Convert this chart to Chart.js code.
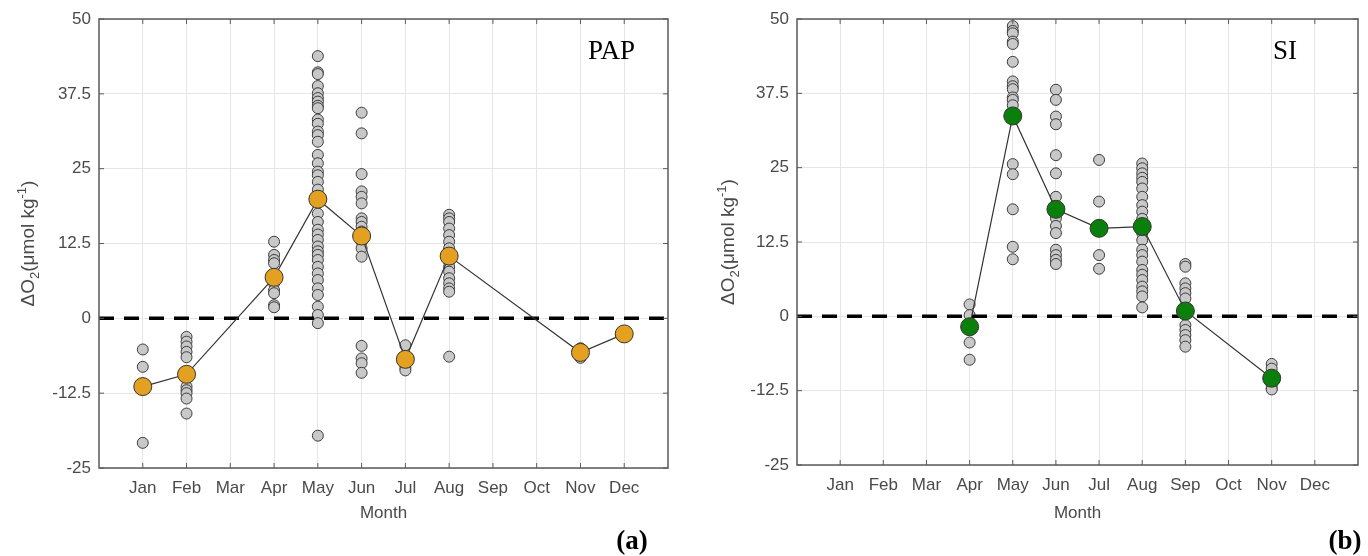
<!DOCTYPE html>
<html lang="en">
<head>
<meta charset="UTF-8">
<title>ΔO2 by month – PAP and SI</title>
<script src="https://cdn.jsdelivr.net/npm/chart.js"></script>
<style>
  body { margin: 0; background: #fff; }
  .wrap { display: flex; width: 1368px; height: 556px; }
  canvas { display: block; }
</style>
</head>
<body>
<div class="wrap">
  <canvas id="papChart" width="684" height="556"></canvas>
  <canvas id="siChart" width="684" height="556"></canvas>
</div>
<script>
const months = ['Jan', 'Feb', 'Mar', 'Apr', 'May', 'Jun', 'Jul', 'Aug', 'Sep', 'Oct', 'Nov', 'Dec'];
const yTicks = [-25, -12.5, 0, 12.5, 25, 37.5, 50];

// single ΔO2 values per month, index 0 = Jan
const papObs = [
  [-5.2, -8.1, -20.8],
  [-3.1, -3.9, -4.7, -5.6, -6.5, -11.4, -12.0, -12.5, -13.4, -15.9],
  [],
  [12.8, 10.6, 9.75, 9.2, 5.85, 4.7, 4.2, 2.2, 1.85],
  [43.8, 41.1, 40.8, 38.8, 37.6, 36.8, 36.2, 35.5, 35.1, 33.2, 32.5, 31.2, 30.6, 29.5, 27.3, 25.9, 24.5,
   23.9, 22.8, 21.5, 17.5, 16.1, 14.8, 14.0, 13.1, 12.0, 11.2, 10.6, 9.75, 8.6, 7.5, 6.4, 5.0, 3.9, 1.95,
   0.56, -0.8, -19.6],
  [34.35, 30.9, 24.1, 21.2, 20.3, 19.2, 16.7, 16.1, 15.3, 14.5, 12.8, 11.7, 10.3, -4.6, -6.7, -7.5, -9.1],
  [-4.5, -6.8, -8.3, -8.7],
  [17.3, 16.7, 16.1, 15.0, 13.9, 12.8, 11.7, 10.5, 9.5, 8.6, 7.8, 6.7, 5.85, 5.0, 4.45, -6.4],
  [],
  [],
  [-5.0, -5.5, -6.2, -6.6],
  [-2.6]
];
const papMeans = [-11.4, -9.35, null, 6.85, 19.9, 13.75, -6.85, 10.4, null, null, -5.7, -2.6];

const siObs = [
  [], [], [],
  [2.0, 0.2, -1.5, -4.4, -7.3],
  [48.8, 48.0, 47.6, 46.2, 45.8, 42.8, 39.5, 38.7, 38.2, 36.8, 36.4, 35.5, 25.6, 23.9, 18.0, 11.7, 9.6],
  [38.1, 36.4, 33.6, 32.3, 27.1, 24.05, 20.1, 16.5, 15.2, 14.0, 11.2, 10.3, 9.5, 8.8],
  [26.3, 19.3, 10.3, 8.0],
  [25.7, 24.9, 24.05, 23.3, 22.6, 21.5, 20.1, 18.7, 17.6, 16.4, 14.0, 12.8, 11.2, 10.3, 9.2, 7.8, 7.0,
   6.1, 5.0, 4.2, 3.35, 1.5],
  [8.8, 8.35, 5.55, 4.7, 3.9, 3.0, 1.0, -1.5, -2.3, -3.15, -4.0, -5.1],
  [],
  [-8.0, -8.8, -11.5, -12.1, -12.3],
  []
];
const siMeans = [null, null, null, -1.75, 33.7, 18.0, 14.8, 15.1, 0.9, null, -10.4, null];

const sans = '"Liberation Sans", Arial, sans-serif';
const serif = '"Liberation Serif", "Times New Roman", serif';
const textGrey = '#4a4a4a';

// zero line, axes box, inward ticks and the hand-set labels
const panelDecor = {
  id: 'panelDecor',
  afterDatasetDraw(chart, args) {
    if (args.index !== 1) return;
    const { ctx, chartArea: a, scales: { y } } = chart;
    const y0 = y.getPixelForValue(0);
    ctx.save();
    ctx.strokeStyle = '#000';
    ctx.lineWidth = 3.5;
    ctx.setLineDash([15, 10]);
    ctx.beginPath();
    ctx.moveTo(a.left, y0);
    ctx.lineTo(a.right, y0);
    ctx.stroke();
    ctx.restore();
  },
  afterDraw(chart, args, opts) {
    const { ctx, chartArea: a, scales: { x, y } } = chart;
    ctx.save();
    ctx.strokeStyle = '#5a5a5a';
    ctx.lineWidth = 1.5;
    ctx.strokeRect(a.left, a.top, a.right - a.left, a.bottom - a.top);

    ctx.lineWidth = 1;
    ctx.beginPath();
    x.ticks.forEach(t => {
      const px = x.getPixelForValue(t.value);
      ctx.moveTo(px, a.bottom); ctx.lineTo(px, a.bottom - 5);
      ctx.moveTo(px, a.top); ctx.lineTo(px, a.top + 5);
    });
    y.ticks.forEach(t => {
      const py = y.getPixelForValue(t.value);
      ctx.moveTo(a.left, py); ctx.lineTo(a.left + 5, py);
      ctx.moveTo(a.right, py); ctx.lineTo(a.right - 5, py);
    });
    ctx.stroke();

    // y title: ΔO2(μmol kg-1) with sub/superscripts
    const parts = [['ΔO', 19, 0], ['2', 13, 5], ['(μmol kg', 19, 0], ['-1', 13, -8], [')', 19, 0]];
    ctx.fillStyle = textGrey;
    ctx.textBaseline = 'alphabetic';
    ctx.textAlign = 'left';
    let total = 0;
    parts.forEach(([t, s]) => { ctx.font = `${s}px ${sans}`; total += ctx.measureText(t).width; });
    ctx.save();
    ctx.translate(opts.titleX, (a.top + a.bottom) / 2);
    ctx.rotate(-Math.PI / 2);
    let pos = -total / 2;
    parts.forEach(([t, s, dy]) => {
      ctx.font = `${s}px ${sans}`;
      ctx.fillText(t, pos, dy);
      pos += ctx.measureText(t).width;
    });
    ctx.restore();

    ctx.font = `17px ${sans}`;
    ctx.textAlign = 'center';
    ctx.fillText('Month', (a.left + a.right) / 2, 518);

    ctx.fillStyle = '#000';
    ctx.textAlign = 'left';
    ctx.font = `27px ${serif}`;
    ctx.fillText(opts.site, a.right - opts.siteOffset, 59);

    ctx.textAlign = 'center';
    ctx.font = `bold 27px ${serif}`;
    ctx.fillText(opts.tag, opts.tagX, 549);
    ctx.restore();
  }
};

function makeChart(id, obs, means, meanColor, o) {
  const obsPts = obs.flatMap((vals, i) => vals.map(v => ({ x: i + 1, y: v })));
  const meanPts = means.map((v, i) => (v === null ? null : { x: i + 1, y: v })).filter(p => p);
  const tickFont = { family: sans, size: 17 };
  return new Chart(document.getElementById(id), {
    type: 'scatter',
    data: {
      datasets: [
        {
          data: meanPts, showLine: true, borderColor: '#333', borderWidth: 1.2,
          pointRadius: 9, pointBackgroundColor: meanColor, pointBorderColor: '#333', pointBorderWidth: 1
        },
        {
          data: obsPts, pointRadius: 5.5, pointBackgroundColor: '#c8c8c8',
          pointBorderColor: '#3c3c3c', pointBorderWidth: 1
        }
      ]
    },
    options: {
      responsive: false,
      animation: false,
      layout: { padding: { top: 19, right: o.padRight, left: 0, bottom: 0 } },
      plugins: {
        legend: { display: false },
        tooltip: { enabled: false },
        panelDecor: { titleX: o.titleX, site: o.site, siteOffset: o.siteOffset, tag: o.tag, tagX: o.tagX }
      },
      scales: {
        x: {
          type: 'linear', min: 0, max: 13,
          afterBuildTicks: s => { s.ticks = months.map((m, i) => ({ value: i + 1 })); },
          afterFit: s => { s.height = o.xHeight; },
          ticks: { callback: v => months[v - 1], font: tickFont, color: textGrey, padding: 10, maxRotation: 0, autoSkip: false },
          grid: { color: '#e6e6e6', drawTicks: false },
          border: { display: false }
        },
        y: {
          min: -25, max: 50,
          afterBuildTicks: s => { s.ticks = yTicks.map(v => ({ value: v })); },
          afterFit: s => { s.width = o.yWidth; },
          ticks: { callback: v => String(v), font: tickFont, color: textGrey, padding: 8 },
          grid: { color: '#e6e6e6', drawTicks: false },
          border: { display: false }
        }
      }
    },
    plugins: [panelDecor]
  });
}

makeChart('papChart', papObs, papMeans, '#e3a021', {
  padRight: 16, xHeight: 88, yWidth: 99, titleX: 34, site: 'PAP', siteOffset: 80, tag: '(a)', tagX: 632
});
makeChart('siChart', siObs, siMeans, '#0b7f0b', {
  padRight: 5, xHeight: 91, yWidth: 113, titleX: 50, site: 'SI', siteOffset: 85, tag: '(b)', tagX: 661
});
</script>
</body>
</html>
